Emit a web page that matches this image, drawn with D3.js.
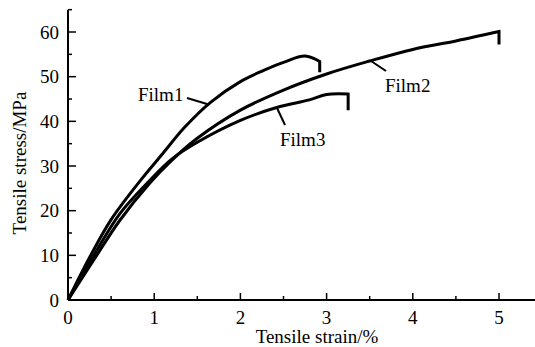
<!DOCTYPE html>
<html><head><meta charset="utf-8">
<script src="https://cdn.jsdelivr.net/npm/d3@7"></script>
</head>
<body style="margin:0">
<svg id="c" width="535" height="347"></svg>
<script>
// Data
const xTicks = [0,1,2,3,4,5];
const yTicks = [0,10,20,30,40,50,60];
const strain1 = [0, 0.25, 0.5, 0.85, 1.1, 1.35, 1.65, 2.0, 2.27, 2.5, 2.75, 2.92];
const stress1 = [0, 9.5, 18, 27, 32.8, 38.6, 44.2, 48.9, 51.4, 53.2, 54.6, 53.4];
const drop1 = 51.0;
const strain2 = [0, 0.3, 0.6, 0.95, 1.2, 1.5, 2.0, 2.5, 3.0, 3.5, 4.0, 4.5, 5.0];
const stress2 = [0, 9, 17.8, 26.2, 31.2, 36.2, 42.5, 47.0, 50.6, 53.5, 56.1, 58.0, 60.1];
const drop2 = 57.2;
const strain3 = [0, 0.3, 0.6, 0.95, 1.2, 1.5, 2.0, 2.42, 2.8, 3.0, 3.25];
const stress3 = [0, 10, 19.3, 26.8, 31.5, 35.3, 40.2, 43.1, 44.8, 46.0, 46.1];
const drop3 = 42.5;
const names = ["Film1","Film2","Film3"];

const svg = d3.select("#c");
const x = d3.scaleLinear().domain([0,5]).range([68,499]);
const y = d3.scaleLinear().domain([0,60]).range([300,32]);

// text items
const texts = [];
xTicks.forEach(v=>texts.push({t:String(v), x:x(v), y:324, a:"middle"}));
yTicks.forEach(v=>texts.push({t:String(v), x:59, y:y(v)+6.5, a:"end"}));
texts.push({t:"Tensile strain/%", x:317, y:343, a:"middle"});
texts.push({t:"Tensile stress/MPa", x:0, y:0, a:"middle", tr:"translate(26,163) rotate(-90)"});
const labelPos = [[138,101],[385,92],[280,146]];
names.forEach((n,i)=>texts.push({t:n, x:labelPos[i][0], y:labelPos[i][1], a:"start"}));

svg.selectAll("text").data(texts).join("text")
  .attr("x",d=>d.x).attr("y",d=>d.y).attr("text-anchor",d=>d.a)
  .attr("transform",d=>d.tr||null)
  .attr("font-size",19)
  .style("font-family",'"Liberation Serif"')
  .attr("fill","#000")
  .text(d=>d.t);

// axes
const g = svg.append("g");
g.append("line").attr("x1",x(0)).attr("x2",535).attr("y1",y(0)).attr("y2",y(0)).attr("stroke","#000").attr("stroke-width",2);
g.append("line").attr("x1",x(0)).attr("x2",x(0)).attr("y1",y(0)).attr("y2",y(65)).attr("stroke","#000").attr("stroke-width",2);
d3.range(0,5.6,0.5).forEach(v=>{
  if (x(v)>534) return;
  const major = Math.abs(v-Math.round(v))<1e-6;
  g.append("line").attr("x1",x(v)).attr("x2",x(v)).attr("y1",y(0)).attr("y2",y(0)-(major?7:4)).attr("stroke","#000").attr("stroke-width",1.5);
});
d3.range(0,66,5).forEach(v=>{
  const major = v%10===0;
  g.append("line").attr("x1",x(0)).attr("x2",x(0)+(major?8:4)).attr("y1",y(v)).attr("y2",y(v)).attr("stroke","#000").attr("stroke-width",1.5);
});

// curves
const line = d3.line().x(d=>x(d[0])).y(d=>y(d[1])).curve(d3.curveCatmullRom.alpha(0.5));
const series = [[strain1,stress1,drop1],[strain2,stress2,drop2],[strain3,stress3,drop3]];
series.forEach(([sx,sy,dr])=>{
  const pts = sx.map((v,i)=>[v,sy[i]]);
  const last = pts[pts.length-1];
  svg.append("path").attr("d", line(pts) + "L" + x(last[0]) + "," + y(dr))
    .attr("fill","none").attr("stroke","#000").attr("stroke-width",3).attr("stroke-linejoin","miter");
});

// leader lines
const leaders = [[187,98,207,104],[371,61,386,71],[277,108,285,125]];
leaders.forEach(l=>{
  svg.append("line").attr("x1",l[0]).attr("y1",l[1]).attr("x2",l[2]).attr("y2",l[3]).attr("stroke","#000").attr("stroke-width",2);
});
</script>
</body></html>
